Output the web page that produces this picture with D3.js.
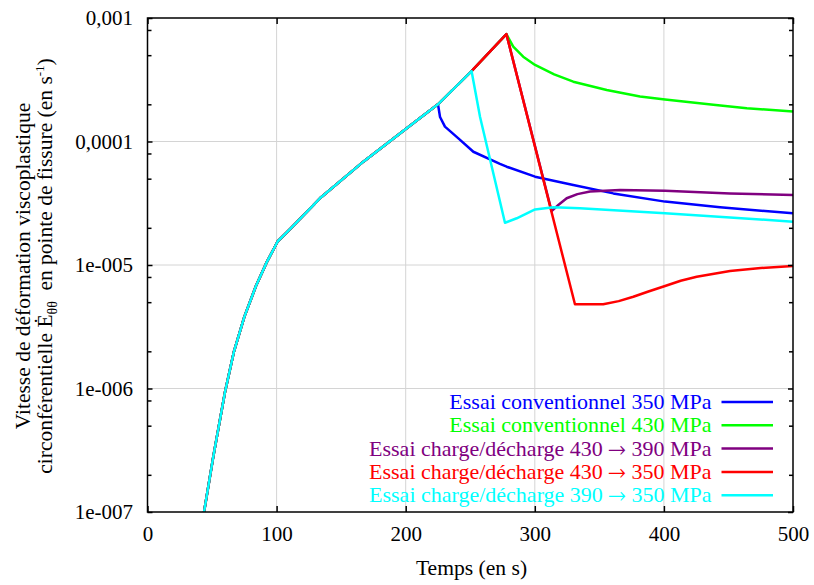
<!DOCTYPE html>
<html><head><meta charset="utf-8">
<script src="https://cdn.jsdelivr.net/npm/d3@7"></script>
</head><body style="margin:0;background:#fff">
<svg id="c" width="814" height="585"></svg>
<script>
// ---- data ----
const riseTime = [43.8, 51, 60, 67, 75, 84, 92.3, 100.8, 110.4, 133.6, 167.2, 200.8, 225, 251, 278];
const riseRate = [1.0e-7, 2.82e-7, 9.33e-7, 2.0e-6, 3.8e-6, 6.76e-6, 1.05e-5, 1.55e-5, 1.95e-5, 3.47e-5, 6.87e-5, 1.28e-4, 2.0e-4, 3.72e-4, 7.41e-4];

const seriesLabelsA = ["Essai conventionnel 350 MPa", "Essai conventionnel 430 MPa",
  "Essai charge/décharge 430 ", "Essai charge/décharge 430 ", "Essai charge/décharge 390 "];
const seriesArrows = ["", "", "\u2192", "\u2192", "\u2192"];
const seriesLabelsB = ["", "", " 390 MPa", " 350 MPa", " 350 MPa"];
const seriesColors = ["#0000ff", "#00ff00", "#800080", "#ff0000", "#00ffff"];
const branchTimes = [225, 278, 278, 278, 251];

const blueTime = [226.6, 230.4, 240.8, 252.4, 273, 278.2, 300.2, 329.8, 360.8, 400.9, 443.5, 500];
const blueRate = [1.58e-4, 1.32e-4, 1.06e-4, 8.26e-5, 6.58e-5, 6.25e-5, 5.19e-5, 4.45e-5, 3.80e-5, 3.26e-5, 2.93e-5, 2.62e-5];
const greenTime = [283.3, 291, 300.2, 315, 329.8, 355.7, 381.5, 400.9, 438.3, 464.2, 500];
const greenRate = [5.86e-4, 4.86e-4, 4.17e-4, 3.5e-4, 3.05e-4, 2.61e-4, 2.31e-4, 2.19e-4, 1.98e-4, 1.86e-4, 1.75e-4];
const purpleTime = [313, 318.2, 324.7, 333, 342.8, 366, 400.9, 451.2, 500];
const purpleRate = [2.73e-5, 3.06e-5, 3.47e-5, 3.75e-5, 3.93e-5, 4.05e-5, 4.0e-5, 3.80e-5, 3.69e-5];
const redTime = [331.1, 353, 365, 376.3, 388, 400.9, 413, 425.4, 451.2, 475, 500];
const redRate = [4.81e-6, 4.81e-6, 5.1e-6, 5.53e-6, 6.1e-6, 6.76e-6, 7.45e-6, 8.04e-6, 8.93e-6, 9.45e-6, 9.82e-6];
const cyanTime = [257.6, 276.9, 286, 300.2, 314.3, 335, 400.9, 451.2, 500];
const cyanRate = [1.58e-4, 2.20e-5, 2.39e-5, 2.82e-5, 2.93e-5, 2.88e-5, 2.62e-5, 2.43e-5, 2.24e-5];

const tailTimes = [blueTime, greenTime, purpleTime, redTime, cyanTime];
const tailRates = [blueRate, greenRate, purpleRate, redRate, cyanRate];

const xTicks = [0, 100, 200, 300, 400, 500];
const xTickLabels = ["0", "100", "200", "300", "400", "500"];
const yTicks = [1e-3, 1e-4, 1e-5, 1e-6, 1e-7];
const yTickLabels = ["0,001", "0,0001", "1e-005", "1e-006", "1e-007"];
const yMinorMantissas = [2, 5, 8];

// ---- layout ----
const L = 147.5, R = 793, T = 18, B = 512;
const FONT = '"Liberation Serif"';

const svg = d3.select("#c");
const x = d3.scaleLinear().domain([0, 500]).range([L, R]);
const y = d3.scaleLog().domain([1e-7, 1e-3]).range([B, T]);

function txt(sel, size) { return sel.style("font-family", FONT).style("font-size", (size || 21) + "px"); }

svg.append("defs").append("clipPath").attr("id", "clip")
  .append("rect").attr("x", L).attr("y", T).attr("width", R - L).attr("height", B - T);

// grid
const grid = svg.append("g").attr("stroke", "#d4d4d4").attr("stroke-width", 1);
xTicks.slice(1, -1).forEach(v => grid.append("line")
  .attr("x1", x(v)).attr("x2", x(v)).attr("y1", T).attr("y2", B));
yTicks.slice(1, -1).forEach(v => grid.append("line")
  .attr("x1", L).attr("x2", R).attr("y1", y(v)).attr("y2", y(v)));

// series
const seriesData = seriesColors.map((c, i) => {
  const pts = [];
  riseTime.forEach((t, j) => { if (t <= branchTimes[i]) pts.push([t, riseRate[j]]); });
  tailTimes[i].forEach((t, j) => pts.push([t, tailRates[i][j]]));
  return pts;
});
const line = d3.line().x(d => x(d[0])).y(d => y(d[1]));
const lg = svg.append("g").attr("clip-path", "url(#clip)");
seriesData.forEach((pts, i) => {
  lg.append("path").attr("d", line(pts)).attr("fill", "none")
    .attr("stroke", seriesColors[i]).attr("stroke-width", 2.5)
    .attr("stroke-linejoin", "round");
});

// axes
const yMinor = [];
for (let e = -7; e < -3; e++) yMinorMantissas.forEach(m => yMinor.push(m * Math.pow(10, e)));

function styleAxis(g) {
  g.select(".domain").remove();
  g.selectAll("line").attr("stroke", "#000").attr("stroke-width", 1.5);
  txt(g.selectAll("text")).attr("fill", "#000");
}
svg.append("g").attr("transform", `translate(0,${B})`)
  .call(d3.axisBottom(x).tickValues(xTicks).tickSize(-6).tickSizeOuter(0).tickPadding(14)
    .tickFormat((d, i) => xTickLabels[i])).call(styleAxis);
svg.append("g").attr("transform", `translate(0,${T})`)
  .call(d3.axisTop(x).tickValues(xTicks).tickSize(-6).tickSizeOuter(0).tickFormat(""))
  .call(styleAxis);
svg.append("g").attr("transform", `translate(${L},0)`)
  .call(d3.axisLeft(y).tickValues(yTicks).tickSize(-5).tickSizeOuter(0).tickPadding(14.5)
    .tickFormat((d, i) => yTickLabels[i])).call(styleAxis);
svg.append("g").attr("transform", `translate(${L},0)`)
  .call(d3.axisLeft(y).tickValues(yMinor).tickSize(-4).tickSizeOuter(0).tickFormat(""))
  .call(styleAxis);
svg.append("g").attr("transform", `translate(${R},0)`)
  .call(d3.axisRight(y).tickValues(yTicks).tickSize(-5).tickSizeOuter(0).tickFormat(""))
  .call(styleAxis);
svg.append("g").attr("transform", `translate(${R},0)`)
  .call(d3.axisRight(y).tickValues(yMinor).tickSize(-4).tickSizeOuter(0).tickFormat(""))
  .call(styleAxis);

// frame
svg.append("rect").attr("x", L).attr("y", T).attr("width", R - L).attr("height", B - T)
  .attr("fill", "none").attr("stroke", "#000").attr("stroke-width", 1.5);

// axis titles
txt(svg.append("text"), 21.6).attr("x", 471.5).attr("y", 575).attr("text-anchor", "middle")
  .text("Temps (en s)");

txt(svg.append("text"), 21.5).attr("transform", "translate(30,266) rotate(-90)")
  .attr("text-anchor", "middle")
  .text("Vitesse de déformation viscoplastique");
const yl2 = txt(svg.append("text"), 21.5).attr("transform", "translate(52,266) rotate(-90)")
  .attr("text-anchor", "middle");
yl2.append("tspan").text("circonférentielle \u0116");
yl2.append("tspan").style("font-size", "14px").attr("dy", 5).text("\u03B8\u03B8");
yl2.append("tspan").attr("dy", -5).attr("dx", 5).text(" en pointe de fissure (en s");
yl2.append("tspan").style("font-size", "13px").attr("dy", -8).text("-1");
yl2.append("tspan").attr("dy", 8).text(")");

// legend
const legX = 711.5, legL1 = 721.5, legL2 = 773, legY0 = 402, legStep = 23.3;
seriesColors.forEach((c, i) => {
  const yy = legY0 + i * legStep;
  const t = txt(svg.append("text"), 22).attr("x", legX).attr("y", yy + 7).attr("text-anchor", "end")
    .attr("fill", c);
  t.append("tspan").text(seriesLabelsA[i]);
  if (seriesArrows[i]) {
    t.append("tspan").style("font-family", '"FreeSerif"').text(seriesArrows[i]);
    t.append("tspan").text(seriesLabelsB[i]);
  }
  svg.append("line").attr("x1", legL1).attr("x2", legL2).attr("y1", yy).attr("y2", yy)
    .attr("stroke", c).attr("stroke-width", 2.5);
});
</script>
</body></html>
